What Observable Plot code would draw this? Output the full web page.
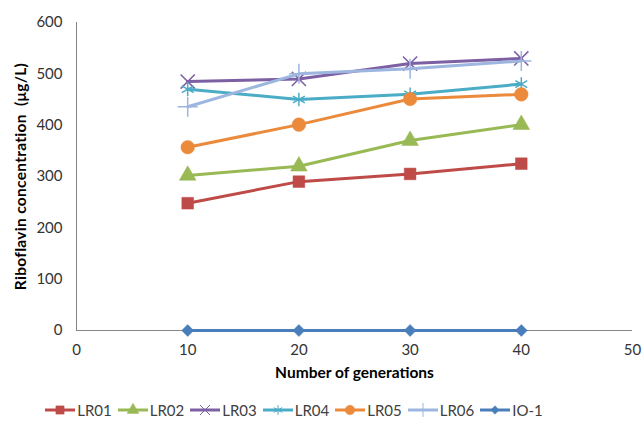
<!DOCTYPE html>
<html>
<head>
<meta charset="utf-8">
<script src="https://cdn.jsdelivr.net/npm/d3@7"></script>
<script src="https://cdn.jsdelivr.net/npm/@observablehq/plot@0.6"></script>
<style>
  body { margin: 0; background: #fff; font-family: Lato, "Open Sans", sans-serif; }
  #chart svg { display: block; }
  g[aria-label="y-axis label"] { font-weight: bold; font-size: 15.5px; fill: #000; letter-spacing: 0.3px; }
  g[aria-label="x-axis label"] { font-weight: bold; font-size: 15.5px; fill: #000; }
  #legend { display: flex; justify-content: center; align-items: center; height: 30px; margin-top: 3px; margin-right: 50px; font-size: 15px; color: #404040; }
  .item { display: flex; align-items: center; margin-right: 6px; }
  .item svg { display: block; margin-right: 2px; }
</style>
</head>
<body>
<div id="chart"></div>
<div id="legend"></div>
<script>
const generations = [10, 20, 30, 40];
const seriesNames = ["LR01", "LR02", "LR03", "LR04", "LR05", "LR06", "IO-1"];
const LR01 = [248, 290, 305, 325];
const LR02 = [302, 320, 370, 401];
const LR03 = [485, 490, 520, 530];
const LR04 = [470, 450, 460, 480];
const LR05 = [357, 401, 451, 460];
const LR06 = [436, 500, 510, 525];
const IO1 = [0, 0, 0, 0];
const seriesValues = [LR01, LR02, LR03, LR04, LR05, LR06, IO1];
const seriesColors = ["#BE4B48", "#98B954", "#7D5FA3", "#4BACC6", "#EC8A3C", "#9DB6DF", "#4A7EBB"];
const seriesSymbols = ["square", "triangle", "times", "asterisk", "circle", "plus", "diamond2"];
const symbolFilled = [true, true, false, false, true, false, true];
const symbolR = [6.6, 6.2, 6.5, 6.5, 6.8, 6.5, 5.4];
const xTicks = [0, 10, 20, 30, 40, 50];
const yTicks = [0, 100, 200, 300, 400, 500, 600];

const data = [];
seriesNames.forEach((s, i) => generations.forEach((g, j) => data.push({series: s, gen: g, value: seriesValues[i][j], idx: i})));

const marks = [
  Plot.ruleY([0], {stroke: "#868686", strokeWidth: 1}),
  Plot.ruleX([0], {stroke: "#868686", strokeWidth: 1}),
  Plot.axisX({ticks: xTicks, tickSize: 0, tickPadding: 14, fontSize: 15, label: "Number of generations", labelAnchor: "center", labelArrow: "none", labelOffset: 47}),
  Plot.axisY({ticks: yTicks, tickSize: 0, tickPadding: 14, fontSize: 15, label: "Riboflavin concentration  (μg/L)", labelAnchor: "center", labelArrow: "none", labelOffset: 62})
];
seriesNames.forEach((s, i) => {
  const sub = data.filter(d => d.series === s);
  marks.push(Plot.line(sub, {x: "gen", y: "value", stroke: seriesColors[i], strokeWidth: 3}));
  marks.push(Plot.dot(sub, {
    x: "gen", y: "value", symbol: () => seriesSymbols[i], r: symbolR[i],
    fill: symbolFilled[i] ? seriesColors[i] : "none",
    stroke: seriesColors[i], strokeWidth: symbolFilled[i] ? 0.5 : 1.5
  }));
});

const chart = Plot.plot({
  width: 644,
  height: 392,
  marginLeft: 76,
  marginRight: 12,
  marginTop: 22,
  marginBottom: 62,
  style: {fontFamily: "Lato, 'Open Sans', sans-serif", color: "#333", fontSize: "15px"},
  x: {domain: [0, 50]},
  y: {domain: [0, 600]},
  symbol: {type: "identity"},
  marks
});
document.getElementById("chart").appendChild(chart);

// legend
const legend = d3.select("#legend");
const symMap = {square: d3.symbolSquare, triangle: d3.symbolTriangle, times: d3.symbolTimes, asterisk: d3.symbolAsterisk, circle: d3.symbolCircle, plus: d3.symbolPlus, diamond2: d3.symbolDiamond2};
seriesNames.forEach((s, i) => {
  const item = legend.append("div").attr("class", "item");
  const svg = item.append("svg").attr("width", 30).attr("height", 18);
  svg.append("line").attr("x1", 0).attr("x2", 30).attr("y1", 9).attr("y2", 9).attr("stroke", seriesColors[i]).attr("stroke-width", 3);
  const lr = symbolR[i] * 0.7;
  svg.append("path")
    .attr("transform", "translate(15,9)")
    .attr("d", d3.symbol(symMap[seriesSymbols[i]], Math.PI * lr * lr)())
    .attr("fill", symbolFilled[i] ? seriesColors[i] : "none")
    .attr("stroke", seriesColors[i])
    .attr("stroke-width", symbolFilled[i] ? 0.5 : 1);
  item.append("span").text(s);
});
</script>
</body>
</html>
